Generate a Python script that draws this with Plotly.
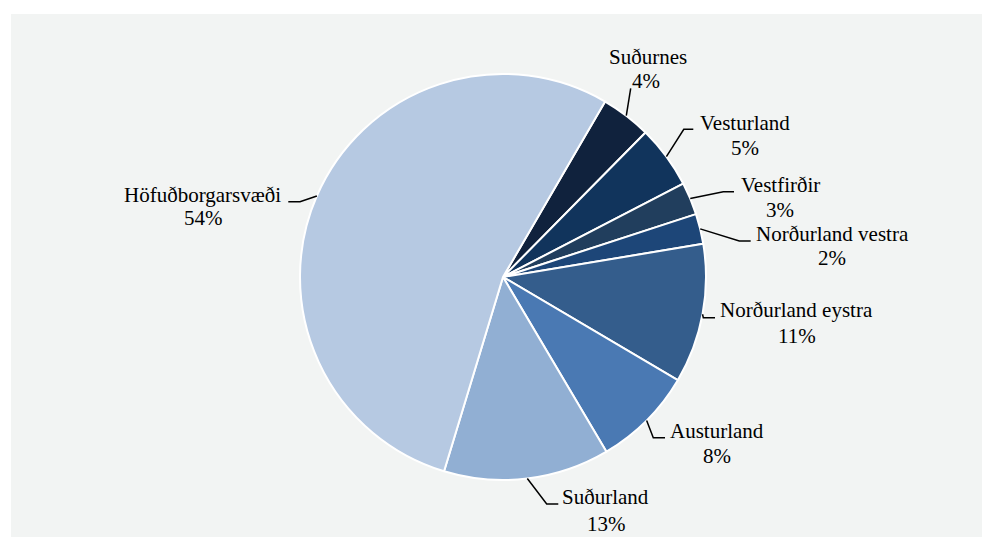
import math
import plotly.graph_objects as go

# ---------------- data ----------------
regions = ["Suðurnes", "Vesturland", "Vestfirðir", "Norðurland vestra",
           "Norðurland eystra", "Austurland", "Suðurland", "Höfuðborgarsvæði"]
shares = [4.0, 5.0, 2.6, 2.4, 11.1, 8.0, 13.2, 53.7]
share_labels = ["4%", "5%", "3%", "2%", "11%", "8%", "13%", "54%"]
colors = ["#10223d", "#11345c", "#213e5d", "#1d4678",
          "#345d8c", "#4a79b3", "#91afd3", "#b6c9e2"]

# ---------------- layout config (pixels) ----------------
W, H = 982, 537
CX, CY, R = 503, 277, 203          # pie centre / radius in pixels
ROTATION = 30.2
# label placement: name centre x, name baseline y, pct centre x, pct baseline y,
# leader end point (x, y) and horizontal stub length (signed)
label_pos = [
    (647.5, 64.3, 646.0, 88.0, 630.7, 88.3, 0.0),
    (745.0, 130.0, 745.0, 155.0, 693.3, 129.3, 9.5),
    (780.0, 191.7, 780.0, 216.7, 734.0, 191.7, 10.7),
    (832.7, 241.0, 832.0, 265.0, 750.7, 241.0, 11.4),
    (796.7, 317.3, 796.7, 342.7, 715.0, 317.7, 11.7),
    (716.7, 437.7, 716.7, 462.7, 665.0, 437.7, 11.7),
    (605.8, 504.0, 606.7, 530.7, 558.3, 504.0, 11.6),
    (202.7, 201.7, 203.3, 225.0, 288.3, 201.7, -11.7),
]


def px(x):
    return x / W


def py(y):
    return 1 - y / H


fig = go.Figure(go.Pie(
    labels=regions,
    values=shares,
    sort=False,
    direction="clockwise",
    rotation=ROTATION,
    marker=dict(colors=colors, line=dict(color="white", width=2)),
    textinfo="none",
    hoverinfo="label+percent",
    showlegend=False,
    domain=dict(x=[px(CX - R), px(CX + R)], y=[py(CY + R), py(CY - R)]),
))

font = dict(family="Liberation Serif, Times New Roman, serif", size=21, color="#000000")
annotations = []
shapes = [dict(type="rect", xref="paper", yref="paper",
               x0=px(11), x1=1, y0=0, y1=py(14),
               fillcolor="#f2f4f3", line=dict(width=0), layer="below")]

total = sum(shares)
cum = 0.0
for name, v, pct, pos in zip(regions, shares, share_labels, label_pos):
    mid = math.radians(ROTATION + 360.0 * (cum + v / 2) / total)
    cum += v
    sx = CX + R * math.sin(mid)
    sy = CY - R * math.cos(mid)
    ncx, nb, pcx, pb, ex, ey, stub = pos
    elx = ex - stub
    path = "M {:.5f},{:.5f} L {:.5f},{:.5f} L {:.5f},{:.5f}".format(
        px(sx), py(sy), px(elx), py(ey), px(ex), py(ey))
    shapes.append(dict(type="path", xref="paper", yref="paper", path=path,
                       line=dict(color="#000000", width=1.5)))
    annotations.append(dict(text=name, x=px(ncx), y=py(nb - 7), xref="paper", yref="paper",
                            xanchor="center", yanchor="middle", showarrow=False, font=font))
    annotations.append(dict(text=pct, x=px(pcx), y=py(pb - 7), xref="paper", yref="paper",
                            xanchor="center", yanchor="middle", showarrow=False, font=font))

fig.update_layout(
    width=W, height=H,
    margin=dict(l=0, r=0, t=0, b=0),
    paper_bgcolor="white",
    plot_bgcolor="white",
    shapes=shapes,
    annotations=annotations,
)

fig.write_html("out.html",
               config={"displayModeBar": False},
               post_script="document.body.style.margin='0';document.body.style.overflow='hidden';")
